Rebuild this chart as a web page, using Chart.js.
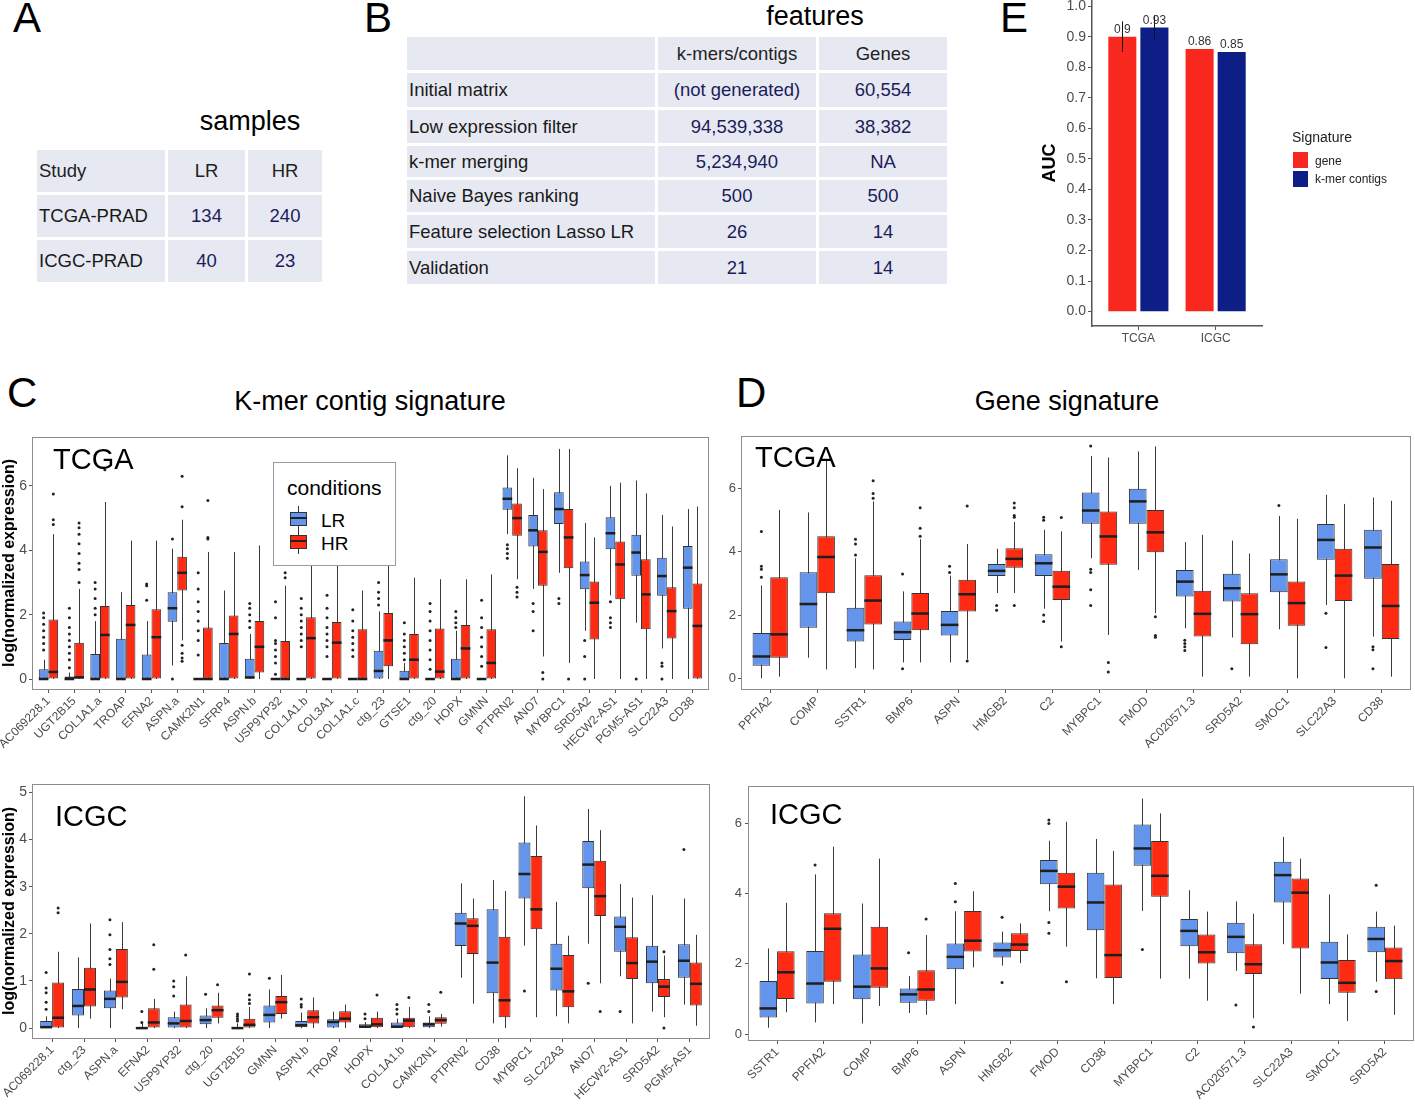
<!DOCTYPE html>
<html>
<head>
<meta charset="utf-8">
<script src="https://cdn.jsdelivr.net/npm/chart.js@4.4.0/dist/chart.umd.min.js"></script>
<style>
  body { margin: 0; background: #fff; font-family: "Liberation Sans", Arial, sans-serif; }
  #page { position: relative; width: 1415px; height: 1104px; overflow: hidden; }
  .abs { position: absolute; line-height: 1; white-space: nowrap; color: #000; }
  .letter { font-size: 42px; }
  .title { font-size: 27px; }
  .inplot { font-size: 29px; }
  canvas { position: absolute; }
  .tbl { position: absolute; border-collapse: separate; border-spacing: 3px; font-size: 18.5px; }
  .tbl td { background: #e7e9f2; padding: 0; text-align: center; vertical-align: middle; color: #1c1c5a; }
  .tbl td.first { text-align: left; padding-left: 2px; color: #1a1a1a; }
  .tbl tr.head td { color: #222; }
</style>
</head>
<body>
<div id="page">
  <div class="abs letter" style="left:13px;top:-3px;">A</div>
  <div class="abs letter" style="left:364px;top:-3px;">B</div>
  <div class="abs letter" style="left:1000px;top:-3px;">E</div>
  <div class="abs letter" style="left:7px;top:372px;">C</div>
  <div class="abs letter" style="left:736px;top:372px;">D</div>

  <div class="abs title" style="left:250px;top:108px;transform:translateX(-50%);">samples</div>
  <div class="abs title" style="left:815px;top:3px;transform:translateX(-50%);">features</div>
  <div class="abs title" style="left:370px;top:388px;transform:translateX(-50%);">K-mer contig signature</div>
  <div class="abs title" style="left:1067px;top:388px;transform:translateX(-50%);">Gene signature</div>

  <table id="tblA" class="tbl" style="left:34px;top:147px;"></table>
  <table id="tblB" class="tbl" style="left:404px;top:34px;"></table>

  <canvas id="chartE" width="385" height="345" style="left:1030px;top:0px;"></canvas>
  <canvas id="cTcga" width="715" height="330" style="left:0px;top:430px;"></canvas>
  <canvas id="cIcgc" width="715" height="324" style="left:0px;top:780px;"></canvas>
  <canvas id="dTcga" width="700" height="330" style="left:715px;top:430px;"></canvas>
  <canvas id="dIcgc" width="700" height="324" style="left:715px;top:780px;"></canvas>

  <div class="abs inplot" style="left:53px;top:445px;">TCGA</div>
  <div class="abs inplot" style="left:55px;top:802px;">ICGC</div>
  <div class="abs inplot" style="left:755px;top:443px;">TCGA</div>
  <div class="abs inplot" style="left:770px;top:800px;">ICGC</div>

  <!-- conditions legend (panel C) -->
  <div class="abs" style="left:273px;top:462px;width:121px;height:102px;border:1px solid #9a9a9a;background:#fff;"></div>
  <div class="abs" style="left:287px;top:477px;font-size:21px;">conditions</div>
  <div class="abs" style="left:298px;top:506px;width:1px;height:25px;background:#333;"></div>
  <div class="abs" style="left:290px;top:512px;width:15px;height:12px;background:#6495ed;border:1px solid #333;"></div>
  <div class="abs" style="left:290px;top:517px;width:17px;height:2px;background:#222;"></div>
  <div class="abs" style="left:321px;top:511px;font-size:19px;">LR</div>
  <div class="abs" style="left:298px;top:529px;width:1px;height:25px;background:#333;"></div>
  <div class="abs" style="left:290px;top:535px;width:15px;height:12px;background:#ff2a12;border:1px solid #333;"></div>
  <div class="abs" style="left:290px;top:540px;width:17px;height:2px;background:#222;"></div>
  <div class="abs" style="left:321px;top:534px;font-size:19px;">HR</div>

  <!-- Signature legend (panel E) -->
  <div class="abs" style="left:1292px;top:130px;font-size:14px;color:#222;">Signature</div>
  <div class="abs" style="left:1293px;top:152px;width:15px;height:16px;background:#f8281e;"></div>
  <div class="abs" style="left:1315px;top:155px;font-size:12px;color:#222;">gene</div>
  <div class="abs" style="left:1293px;top:171px;width:15px;height:16px;background:#0d1e86;"></div>
  <div class="abs" style="left:1315px;top:173px;font-size:12px;color:#222;">k-mer contigs</div>
</div>

<script>
// ---------- tables ----------
var sampleHeader = ['Study', 'LR', 'HR'];
var sampleRows = [
  ['TCGA-PRAD', '134', '240'],
  ['ICGC-PRAD', '40', '23']
];
var featureHeader = ['', 'k-mers/contigs', 'Genes'];
var featureRows = [
  ['Initial matrix', '(not generated)', '60,554'],
  ['Low expression filter', '94,539,338', '38,382'],
  ['k-mer merging', '5,234,940', 'NA'],
  ['Naive Bayes ranking', '500', '500'],
  ['Feature selection Lasso LR', '26', '14'],
  ['Validation', '21', '14']
];

// ---------- panel E ----------
var aucStudies = ['TCGA', 'ICGC'];
var aucGene = [0.9, 0.86];
var aucKmer = [0.93, 0.85];
var aucGeneErr = [[0.85, 0.95], null];
var aucKmerErr = [[0.89, 0.97], null];
var aucTicks = [0, 0.1, 0.2, 0.3, 0.4, 0.5, 0.6, 0.7, 0.8, 0.9, 1.0];

// ---------- panel C, TCGA ([min, q1, median, q3, max]) ----------
var cTcgaGenes = ['AC069228.1', 'UGT2B15', 'COL1A1.a', 'TROAP', 'EFNA2', 'ASPN.a', 'CAMK2N1', 'SFRP4',
  'ASPN.b', 'USP9YP32', 'COL1A1.b', 'COL3A1', 'COL1A1.c', 'ctg_23', 'GTSE1', 'ctg_20', 'HOPX', 'GMNN',
  'PTPRN2', 'ANO7', 'MYBPC1', 'SRD5A2', 'HECW2-AS1', 'PGM5-AS1', 'SLC22A3', 'CD38'];
var cTcgaLR = [
  [0, 0, 0, 0.3, 0.6], [0, 0, 0, 0.08, 0.2], [0, 0, 0, 0.78, 1.8], [0, 0, 0, 1.25, 2.7],
  [0, 0, 0, 0.76, 1.8], [0.42, 1.78, 2.2, 2.7, 4.05], [0, 0, 0, 0, 0], [0, 0, 0, 1.12, 2.75],
  [0, 0.02, 0.05, 0.63, 1.4], [0, 0, 0, 0, 0], [0, 0, 0, 0, 0], [0, 0, 0, 0, 0],
  [0, 0, 0, 0, 0], [0, 0, 0.25, 0.88, 2.1], [0, 0, 0, 0.26, 0.5], [0, 0, 0, 0, 0],
  [0, 0, 0, 0.63, 1.5], [0, 0, 0, 0, 0], [4.5, 5.26, 5.6, 5.95, 6.95], [2.8, 4.12, 4.62, 5.1, 6.25],
  [3.3, 4.82, 5.28, 5.8, 7.15], [1.5, 2.79, 3.23, 3.65, 4.85], [2.6, 4.03, 4.53, 5.03, 6.0],
  [1.75, 3.21, 3.93, 4.48, 6.17], [0.95, 2.59, 3.2, 3.77, 5.1], [0, 2.18, 3.46, 4.13, 5.28]
];
var cTcgaHR = [
  [0, 0, 0.22, 1.85, 4.5], [0, 0, 0.05, 1.13, 2.8], [0, 0, 1.37, 2.27, 5.5], [0, 0, 1.68, 2.3, 4.3],
  [0, 0, 1.3, 2.17, 4.3], [1.2, 2.75, 3.3, 3.8, 4.95], [0, 0, 0, 1.6, 3.95], [0, 0, 1.4, 1.97, 3.95],
  [0, 0.2, 1.0, 1.8, 4.15], [0, 0, 0, 1.18, 2.9], [0, 0, 1.27, 1.92, 4.8], [0, 0, 1.13, 1.77, 4.3],
  [0, 0, 0, 1.55, 2.75], [0, 0.4, 1.2, 2.05, 3.6], [0, 0, 0.6, 1.4, 3.15], [0, 0, 0.23, 1.57, 3.1],
  [0, 0, 0.95, 1.68, 3.1], [0, 0, 0.5, 1.55, 3.25], [3.1, 4.45, 5.0, 5.45, 6.55], [0.7, 2.9, 3.95, 4.62, 5.9],
  [0.5, 3.44, 4.4, 5.28, 7.15], [0, 1.23, 2.37, 3.03, 4.4], [0, 2.48, 3.56, 4.27, 6.1],
  [0, 1.55, 2.63, 3.72, 5.77], [0, 1.26, 2.11, 2.85, 4.74], [0, 0, 1.65, 2.97, 5.36]
];
var cTcgaLROut = [
  [0.9, 1.1, 1.3, 1.5, 1.7, 1.9, 2.05], [0.35, 0.6, 0.8, 1.0, 1.2, 1.4, 1.6, 1.9, 2.2], [2.0, 2.2, 2.5, 2.8, 3.0], [],
  [2.45, 2.9, 2.95], [0, 4.35], [0.75, 1.2, 1.5, 1.8, 2.1, 2.4, 2.8, 3.3], [],
  [1.6, 1.8, 2.0, 2.2, 2.35], [0.15, 0.5, 0.7, 0.9, 1.1, 1.2, 1.9, 2.4], [1.0, 1.2, 1.4, 1.6, 1.8, 2.0, 2.2, 2.5],
  [0.7, 1.0, 1.2, 1.4, 1.6, 1.9, 2.2, 2.6], [0.7, 0.9, 1.1, 1.3, 1.5, 1.8, 2.15], [2.3, 2.5, 2.7, 3.0],
  [0.6, 0.8, 1.0, 1.2, 1.4, 1.75], [0.3, 0.6, 0.9, 1.2, 1.5, 1.8, 2.1, 2.35], [1.6, 1.75, 1.9, 2.1],
  [0.4, 0.7, 1.0, 1.3, 1.6, 1.9, 2.45], [3.75, 3.9, 4.05, 4.17], [1.5, 2.1, 2.35], [2.35, 2.5], [0, 0.7, 1.2],
  [1.6, 1.75, 1.9, 2.4], [0], [0, 0.4, 0.5], []
];
var cTcgaHROut = [
  [4.8, 4.95, 5.75], [3.0, 3.4, 3.6, 3.9, 4.2, 4.5, 4.7, 4.85], [6.5], [], [], [0.55, 0.65, 0.8, 1.05, 5.35, 6.3],
  [4.35, 4.4, 5.55], [], [], [3.15, 3.3], [], [], [], [], [], [], [], [],
  [2.55, 2.7, 2.85], [0, 0.2], [0], [], [], [], [], []
];

// ---------- panel C, ICGC ----------
var cIcgcGenes = ['AC069228.1', 'ctg_23', 'ASPN.a', 'EFNA2', 'USP9YP32', 'ctg_20', 'UGT2B15', 'GMNN',
  'ASPN.b', 'TROAP', 'HOPX', 'COL1A1.b', 'CAMK2N1', 'PTPRN2', 'CD38', 'MYBPC1', 'SLC22A3', 'ANO7',
  'HECW2-AS1', 'SRD5A2', 'PGM5-AS1'];
var cIcgcLR = [
  [0, 0, 0.02, 0.15, 0.25], [0, 0.27, 0.47, 0.83, 1.5], [0, 0.42, 0.62, 0.8, 1.05], [0, 0, 0, 0.02, 0.1],
  [0, 0, 0.1, 0.23, 0.35], [0, 0.08, 0.17, 0.27, 0.42], [0, 0, 0, 0.02, 0.1], [0, 0.12, 0.28, 0.48, 0.82],
  [0, 0.02, 0.06, 0.15, 0.33], [0, 0, 0.13, 0.19, 0.35], [0, 0, 0.03, 0.08, 0.13], [0, 0, 0.03, 0.12, 0.2],
  [0, 0.02, 0.08, 0.12, 0.25], [1.07, 1.74, 2.22, 2.45, 3.07], [0.1, 0.74, 1.39, 2.52, 3.14],
  [1.75, 2.75, 3.27, 3.94, 4.92], [0.25, 0.8, 1.26, 1.79, 2.68], [1.79, 2.97, 3.47, 3.97, 4.65],
  [1.1, 1.62, 2.15, 2.37, 3.06], [0.35, 0.95, 1.41, 1.75, 2.82], [0.5, 1.07, 1.43, 1.78, 2.75]
];
var cIcgcHR = [
  [0, 0, 0.22, 0.97, 1.62], [0.2, 0.46, 0.82, 1.28, 2.22], [0.4, 0.65, 0.98, 1.68, 2.25], [0, 0, 0.12, 0.42, 0.62],
  [0, 0, 0.15, 0.5, 1.1], [0.1, 0.22, 0.38, 0.48, 0.75], [0, 0, 0.07, 0.2, 0.45], [0.2, 0.3, 0.55, 0.68, 1.13],
  [0, 0.1, 0.23, 0.38, 0.65], [0, 0.12, 0.2, 0.36, 0.5], [0, 0.02, 0.08, 0.22, 0.35], [0, 0.02, 0.16, 0.22, 0.45],
  [0.03, 0.09, 0.17, 0.23, 0.3], [0.52, 1.57, 2.17, 2.33, 2.75], [0, 0.23, 0.59, 1.94, 2.91],
  [0.23, 2.1, 2.52, 3.65, 4.3], [0.1, 0.44, 0.78, 1.55, 1.96], [0.95, 2.38, 2.8, 3.55, 4.2],
  [0.1, 1.04, 1.38, 1.93, 2.77], [0.23, 0.66, 0.88, 1.04, 1.54], [0.05, 0.48, 0.94, 1.39, 1.98]
];
var cIcgcLROut = [
  [0.4, 0.55, 0.75, 0.85, 1.18], [], [1.35, 1.47, 1.67, 1.98, 2.3], [0.12, 0.35], [0.68, 0.88, 1.0], [0.72],
  [0.15, 0.2, 0.25, 0.3], [1.06], [0.45, 0.5, 0.62], [], [0.2, 0.3], [0.3, 0.4, 0.5], [0.35, 0.5],
  [], [], [0.79], [], [0.95], [0.35], [], [3.79]
];
var cIcgcHROut = [
  [2.45, 2.55], [], [], [1.25, 1.77], [1.55], [0.92], [0.52, 0.6, 0.7, 1.15], [], [], [], [0.7], [0.65], [0.76],
  [], [], [], [], [0.35], [], [0, 1.62], []
];

// ---------- panel D, TCGA ----------
var dTcgaGenes = ['PPFIA2', 'COMP', 'SSTR1', 'BMP6', 'ASPN', 'HMGB2', 'C2', 'MYBPC1', 'FMOD',
  'AC020571.3', 'SRD5A2', 'SMOC1', 'SLC22A3', 'CD38'];
var dTcgaLR = [
  [0, 0.4, 0.69, 1.43, 2.94], [0.65, 1.6, 2.35, 3.36, 5.25], [0.32, 1.16, 1.52, 2.23, 3.8], [0.5, 1.21, 1.46, 1.8, 2.75],
  [0.5, 1.35, 1.69, 2.13, 3.25], [2.7, 3.24, 3.4, 3.62, 4.1], [2.2, 3.24, 3.64, 3.93, 4.7], [3.8, 4.89, 5.31, 5.88, 7.04],
  [3.43, 4.89, 5.6, 6.0, 7.18], [1.58, 2.59, 3.06, 3.43, 4.31], [1.29, 2.43, 2.85, 3.31, 4.36], [1.55, 2.72, 3.29, 3.77, 5.14],
  [2.32, 3.75, 4.38, 4.88, 5.81], [1.32, 3.15, 4.14, 4.7, 5.72]
];
var dTcgaHR = [
  [0.05, 0.65, 1.39, 3.2, 5.33], [0.28, 2.69, 3.84, 4.5, 6.9], [0.28, 1.7, 2.46, 3.26, 5.6], [0.5, 1.52, 2.05, 2.7, 4.4],
  [0.6, 2.11, 2.66, 3.12, 4.25], [2.7, 3.5, 3.78, 4.12, 4.95], [1.16, 2.48, 2.9, 3.4, 4.65], [1.37, 3.59, 4.49, 5.28, 6.99],
  [2.06, 3.99, 4.62, 5.33, 7.34], [0.05, 1.32, 2.04, 2.77, 4.54], [0.05, 1.08, 2.03, 2.69, 3.95], [0, 1.66, 2.38, 3.06, 5.05],
  [0, 2.45, 3.25, 4.1, 5.52], [0.05, 1.24, 2.29, 3.62, 5.62]
];
var dTcgaLROut = [
  [3.2, 3.45, 3.55, 4.65], [], [3.9, 4.25, 4.4], [0.3, 3.3], [3.35, 3.55], [2.15, 2.3], [1.8, 2.0, 5.0, 5.1],
  [2.3, 2.8, 3.35, 3.45, 7.35], [], [0.88, 1.0, 1.1, 1.2], [0.3], [5.47], [0.97, 2.06], [0.3, 0.9, 1.0]
];
var dTcgaHROut = [
  [], [], [5.7, 5.85, 6.25], [4.5, 4.75, 5.4], [0.55, 5.45], [2.3, 5.1, 5.15, 5.4, 5.55], [1.0, 5.09],
  [0.2, 0.5], [1.3, 1.35, 1.95], [], [], [], [], []
];

// ---------- panel D, ICGC ----------
var dIcgcGenes = ['SSTR1', 'PPFIA2', 'COMP', 'BMP6', 'ASPN', 'HMGB2', 'FMOD', 'CD38', 'MYBPC1', 'C2',
  'AC020571.3', 'SLC22A3', 'SMOC1', 'SRD5A2'];
var dIcgcLR = [
  [0.18, 0.47, 0.73, 1.51, 2.44], [0.33, 0.87, 1.44, 2.37, 4.55], [0.3, 0.99, 1.35, 2.27, 3.72], [0.6, 0.89, 1.13, 1.3, 1.65],
  [0.85, 1.85, 2.2, 2.58, 3.5], [1.95, 2.18, 2.39, 2.61, 2.92], [3.5, 4.27, 4.65, 4.96, 5.51], [1.59, 2.96, 3.75, 4.6, 5.56],
  [3.51, 4.8, 5.29, 5.97, 6.71], [1.58, 2.5, 2.94, 3.28, 4.1], [1.8, 2.3, 2.77, 3.17, 3.78], [2.56, 3.75, 4.53, 4.91, 5.62],
  [0.85, 1.57, 2.04, 2.63, 3.98], [1.49, 2.33, 2.71, 3.06, 3.49]
];
var dIcgcHR = [
  [0.62, 1.0, 1.76, 2.36, 3.74], [0.85, 1.49, 3.0, 3.44, 5.34], [0.8, 1.32, 1.87, 3.06, 5.0], [0.55, 0.95, 1.27, 1.82, 2.82],
  [1.9, 2.35, 2.66, 3.51, 4.07], [2.02, 2.37, 2.55, 2.87, 3.15], [2.49, 3.58, 4.2, 4.6, 6.05], [0.85, 1.6, 2.25, 4.26, 5.22],
  [1.58, 3.91, 4.51, 5.5, 6.29], [0.95, 2.01, 2.33, 2.84, 3.49], [0.45, 1.71, 1.99, 2.56, 3.43], [1.15, 2.44, 4.03, 4.43, 5.0],
  [0.37, 1.18, 1.46, 2.11, 2.84], [0.55, 1.56, 2.08, 2.47, 3.09]
];
var dIcgcLROut = [[], [4.82], [], [2.32], [3.77, 4.29], [1.47, 3.33], [2.87, 3.18, 6.0, 6.1], [], [2.41], [], [0.83], [], [], [1.21, 4.24]];
var dIcgcHROut = [[], [], [], [3.28], [], [], [1.49], [], [], [], [0.2], [], [], []];

// ---------- drawing ----------
var FONT = '"Liberation Sans", Arial, sans-serif';
Chart.defaults.font.family = FONT;
var LR_COLOR = '#6495ed';
var HR_COLOR = '#ff2a12';

function buildTable(id, header, rows, widths, heights) {
  var t = document.getElementById(id);
  [header].concat(rows).forEach(function(r, i) {
    var tr = document.createElement('tr');
    if (i === 0) tr.className = 'head';
    tr.style.height = heights[i] + 'px';
    r.forEach(function(c, j) {
      var td = document.createElement('td');
      td.textContent = c;
      td.style.width = widths[j] + 'px';
      if (j === 0) td.className = 'first';
      tr.appendChild(td);
    });
    t.appendChild(tr);
  });
}
buildTable('tblA', sampleHeader, sampleRows, [126, 77, 74], [42, 42, 42]);
buildTable('tblB', featureHeader, featureRows, [246, 158, 128], [33, 34, 33, 31, 32, 33, 33]);

// whiskers under the boxes, medians and outliers on top
var boxPlugin = {
  id: 'boxes',
  beforeDatasetsDraw: function(chart) {
    var ctx = chart.ctx, y = chart.scales.y;
    chart.data.datasets.forEach(function(ds, i) {
      chart.getDatasetMeta(i).data.forEach(function(bar, j) {
        var s = ds.stats[j];
        ctx.save();
        ctx.strokeStyle = '#3a3a3a';
        ctx.lineWidth = 1;
        ctx.beginPath();
        ctx.moveTo(Math.round(bar.x) + 0.5, y.getPixelForValue(s[0]));
        ctx.lineTo(Math.round(bar.x) + 0.5, y.getPixelForValue(s[4]));
        ctx.stroke();
        ctx.restore();
      });
    });
  },
  afterDatasetsDraw: function(chart) {
    var ctx = chart.ctx, y = chart.scales.y;
    chart.data.datasets.forEach(function(ds, i) {
      chart.getDatasetMeta(i).data.forEach(function(bar, j) {
        var s = ds.stats[j];
        var py = y.getPixelForValue(s[2]);
        ctx.save();
        ctx.strokeStyle = '#1e1e1e';
        ctx.lineWidth = 2.5;
        ctx.beginPath();
        ctx.moveTo(bar.x - bar.width / 2, py);
        ctx.lineTo(bar.x + bar.width / 2, py);
        ctx.stroke();
        ctx.fillStyle = '#222';
        (ds.outliers[j] || []).forEach(function(v) {
          ctx.beginPath();
          ctx.arc(bar.x, y.getPixelForValue(v), 1.5, 0, Math.PI * 2);
          ctx.fill();
        });
        ctx.restore();
      });
    });
  }
};

var framePlugin = {
  id: 'frame',
  afterDraw: function(chart) {
    var a = chart.chartArea, ctx = chart.ctx;
    ctx.save();
    ctx.strokeStyle = '#8c8c8c';
    ctx.lineWidth = 1;
    ctx.strokeRect(Math.round(a.left) - 0.5, Math.round(a.top) + 0.5, Math.round(a.right - a.left) + 1, Math.round(a.bottom - a.top));
    ctx.restore();
  }
};

function boxChart(id, genes, lr, hr, lrOut, hrOut, cfg) {
  function toBox(s, i) { return { x: i + 1, y: [s[1], s[3]] }; }
  return new Chart(document.getElementById(id), {
    type: 'bar',
    data: {
      datasets: [
        { label: 'LR', data: lr.map(toBox), stats: lr, outliers: lrOut, backgroundColor: LR_COLOR,
          borderColor: '#333', borderWidth: 1, borderSkipped: false },
        { label: 'HR', data: hr.map(toBox), stats: hr, outliers: hrOut, backgroundColor: HR_COLOR,
          borderColor: '#333', borderWidth: 1, borderSkipped: false }
      ]
    },
    options: {
      responsive: false,
      animation: false,
      devicePixelRatio: 1,
      events: [],
      layout: { padding: { top: cfg.padTop, right: cfg.padRight, left: 0, bottom: 0 } },
      datasets: { bar: { categoryPercentage: 0.75, barPercentage: 1 } },
      plugins: { legend: { display: false }, tooltip: { enabled: false } },
      scales: {
        x: {
          type: 'linear',
          offset: false,
          min: 0.4,
          max: genes.length + 0.6,
          border: { display: false },
          grid: { display: true, drawOnChartArea: false, offset: false, tickLength: 4, color: '#555' },
          ticks: {
            autoSkip: false, minRotation: 45, maxRotation: 45, padding: 1,
            font: { size: 12 }, color: '#4d4d4d',
            callback: function(v) { return genes[Math.round(v) - 1]; }
          },
          afterBuildTicks: function(s) { s.ticks = genes.map(function(g, i) { return { value: i + 1 }; }); },
          afterFit: function(s) { s.height = cfg.xHeight; s.paddingLeft = 0; s.paddingRight = 0; }
        },
        y: {
          min: cfg.yMin,
          max: cfg.yMax,
          border: { display: false },
          grid: { display: true, drawOnChartArea: false, tickLength: 4, color: '#555' },
          ticks: { font: { size: cfg.tickSize }, color: '#4d4d4d', padding: cfg.tickPad },
          afterBuildTicks: function(s) { s.ticks = cfg.yTicks.map(function(v) { return { value: v }; }); },
          afterFit: function(s) { s.width = cfg.yWidth; s.paddingTop = 0; s.paddingBottom = 0; },
          title: {
            display: !!cfg.yTitle, text: cfg.yTitle || '', color: '#000', padding: 0,
            font: { size: 16, weight: 'bold' }
          }
        }
      }
    },
    plugins: [boxPlugin, framePlugin]
  });
}

boxChart('cTcga', cTcgaGenes, cTcgaLR, cTcgaHR, cTcgaLROut, cTcgaHROut, {
  padTop: 7, padRight: 7, xHeight: 71, yWidth: 33, yMin: -0.31, yMax: 7.52,
  yTicks: [0, 2, 4, 6], tickSize: 14, tickPad: 2, yTitle: 'log(normalized expression)'
});
boxChart('cIcgc', cIcgcGenes, cIcgcLR, cIcgcHR, cIcgcLROut, cIcgcHROut, {
  padTop: 4, padRight: 6, xHeight: 66, yWidth: 33, yMin: -0.21, yMax: 5.18,
  yTicks: [0, 1, 2, 3, 4, 5], tickSize: 14, tickPad: 2, yTitle: 'log(normalized expression)'
});
boxChart('dTcga', dTcgaGenes, dTcgaLR, dTcgaHR, dTcgaLROut, dTcgaHROut, {
  padTop: 6, padRight: 5, xHeight: 71, yWidth: 27, yMin: -0.34, yMax: 7.67,
  yTicks: [0, 2, 4, 6], tickSize: 13, tickPad: 2
});
boxChart('dIcgc', dIcgcGenes, dIcgcLR, dIcgcHR, dIcgcLROut, dIcgcHROut, {
  padTop: 6, padRight: 2, xHeight: 64, yWidth: 34, yMin: -0.17, yMax: 7.07,
  yTicks: [0, 2, 4, 6], tickSize: 13, tickPad: 3
});

// panel E: value labels and error bars
var aucLabels = {
  id: 'aucLabels',
  afterDatasetsDraw: function(chart) {
    var ctx = chart.ctx, y = chart.scales.y;
    chart.data.datasets.forEach(function(ds, i) {
      chart.getDatasetMeta(i).data.forEach(function(bar, j) {
        var e = ds.err[j];
        ctx.save();
        if (e) {
          ctx.strokeStyle = '#111';
          ctx.lineWidth = 1;
          ctx.beginPath();
          ctx.moveTo(Math.round(bar.x) + 0.5, y.getPixelForValue(e[0]));
          ctx.lineTo(Math.round(bar.x) + 0.5, y.getPixelForValue(e[1]));
          ctx.stroke();
        }
        ctx.fillStyle = '#333';
        ctx.font = '12px ' + FONT;
        ctx.textAlign = 'center';
        ctx.textBaseline = 'bottom';
        ctx.fillText(String(ds.data[j].y), bar.x, bar.y - 1);
        ctx.restore();
      });
    });
  }
};

new Chart(document.getElementById('chartE'), {
  type: 'bar',
  data: {
    datasets: [
      { label: 'gene', data: aucGene.map(function(v, i) { return { x: i + 1, y: v }; }),
        err: aucGeneErr, backgroundColor: '#f8281e' },
      { label: 'k-mer contigs', data: aucKmer.map(function(v, i) { return { x: i + 1, y: v }; }),
        err: aucKmerErr, backgroundColor: '#0d1e86' }
    ]
  },
  options: {
    responsive: false,
    animation: false,
    devicePixelRatio: 1,
    events: [],
    layout: { padding: { top: 0, right: 153, left: 0, bottom: 0 } },
    datasets: { bar: { categoryPercentage: 0.83, barPercentage: 0.875 } },
    plugins: { legend: { display: false }, tooltip: { enabled: false } },
    scales: {
      x: {
        type: 'linear', offset: false, min: 0.4, max: 2.6,
        border: { display: true, color: '#555', width: 1.5 },
        grid: { display: true, drawOnChartArea: false, offset: false, tickLength: 4, color: '#555' },
        ticks: { font: { size: 12 }, color: '#4d4d4d', padding: 1,
          callback: function(v) { return aucStudies[Math.round(v) - 1]; } },
        afterBuildTicks: function(s) { s.ticks = aucStudies.map(function(g, i) { return { value: i + 1 }; }); },
        afterFit: function(s) { s.height = 19; s.paddingLeft = 0; s.paddingRight = 0; }
      },
      y: {
        min: -0.047, max: 1.02,
        border: { display: true, color: '#555', width: 1.5 },
        grid: { display: true, drawOnChartArea: false, tickLength: 4, color: '#555' },
        ticks: { font: { size: 14 }, color: '#4d4d4d', padding: 2,
          callback: function(v) { return v.toFixed(1); } },
        afterBuildTicks: function(s) { s.ticks = aucTicks.map(function(v) { return { value: v }; }); },
        afterFit: function(s) { s.width = 62; s.paddingTop = 0; s.paddingBottom = 0; },
        title: { display: true, text: 'AUC', color: '#000', font: { size: 18, weight: 'bold' },
          padding: { top: 9, bottom: 0 } }
      }
    }
  },
  plugins: [aucLabels]
});
</script>
</body>
</html>
